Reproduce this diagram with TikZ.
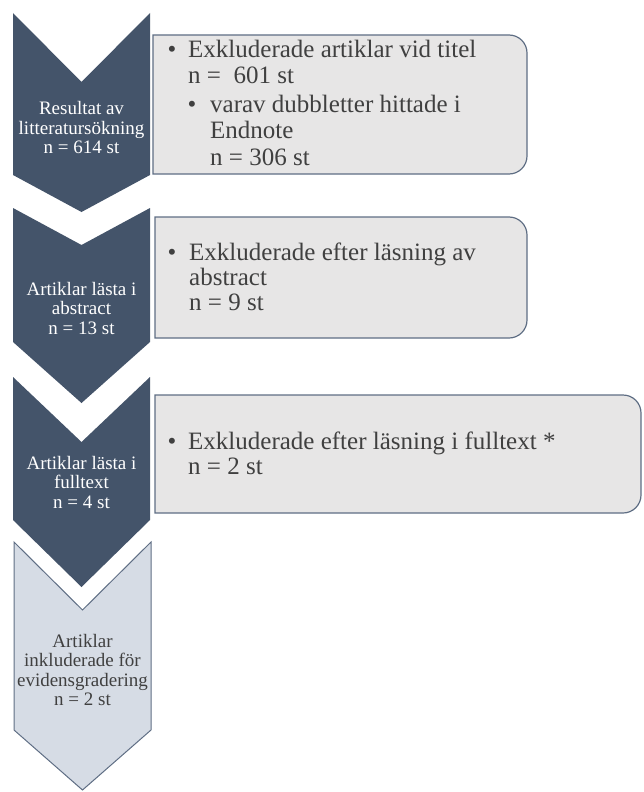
\documentclass[tikz,border=0pt]{standalone}
\usepackage{fontspec}
\setmainfont{Liberation Serif}
\definecolor{chevdark}{HTML}{44546A}
\definecolor{chevlight}{HTML}{D6DCE5}
\definecolor{boxfill}{HTML}{E7E6E6}
\definecolor{boxedge}{HTML}{5F6E84}
\definecolor{txtgrey}{HTML}{404040}

\begin{document}
\begin{tikzpicture}[x=1pt, y=-1pt,
    chevtext/.style={align=center, inner sep=0pt, font=\fontsize{19}{19.5}\selectfont},
    exclbox/.style={fill=boxfill, draw=boxedge, line width=1.2pt},
    itemtext/.style={anchor=base west, inner sep=0pt, text=txtgrey, font=\fontsize{25}{26.5}\selectfont},
    bullettext/.style={anchor=base, inner sep=0pt, text=txtgrey, font=\fontsize{25}{25}\selectfont}]
    \useasboundingbox (0,0) rectangle (643,792);
    \clip (0,0) rectangle (643,792);

    % chevrons
    \fill[chevdark] (13,13) -- (81.5,82) -- (150,13) -- (150,175) -- (81.5,212) -- (13,175) -- cycle;
    \fill[chevdark] (13,208) -- (81.5,245) -- (150,208) -- (150,342) -- (81.5,403) -- (13,342) -- cycle;
    \fill[chevdark] (13,377) -- (81.5,442) -- (150,377) -- (150,520) -- (81.5,587) -- (13,520) -- cycle;
    \draw[fill=chevlight, draw=boxedge, line width=1pt] (14,542) -- (82.5,610) -- (151,542) -- (151,730) -- (82.5,790) -- (14,730) -- cycle;

    \node[chevtext, text=white] (res) at (81.5,128) {Resultat av\\litteratursökning\\n = 614 st};
    \node[chevtext, text=white] (abs) at (81.5,308) {Artiklar lästa i\\abstract\\n = 13 st};
    \node[chevtext, text=white] (full) at (81.5,482) {Artiklar lästa i\\fulltext\\n = 4 st};
    \node[chevtext, text=txtgrey] (incl) at (82.5,670) {Artiklar\\inkluderade för\\evidensgradering\\n = 2 st};

    % boxes
    \draw[exclbox] (153,35) -- (509,35) arc[start angle=-90, end angle=0, radius=18]
        -- (527,156) arc[start angle=0, end angle=90, radius=18] -- (153,174) -- cycle;
    \draw[exclbox] (155,217) -- (509,217) arc[start angle=-90, end angle=0, radius=18]
        -- (527,320) arc[start angle=0, end angle=90, radius=18] -- (155,338) -- cycle;
    \draw[exclbox] (155,395) -- (623,395) arc[start angle=-90, end angle=0, radius=18]
        -- (641,495) arc[start angle=0, end angle=90, radius=18] -- (155,513) -- cycle;

    \node[bullettext] (b1) at (172,57) {•};
    \node[itemtext] (t1a) at (188,57) {Exkluderade artiklar vid titel};
    \node[itemtext] (t1b) at (188,83) {n =\ \ 601 st};
    \node[bullettext] (b2) at (192,112) {•};
    \node[itemtext] (t2a) at (210,112) {varav dubbletter hittade i};
    \node[itemtext] (t2b) at (210,138) {Endnote};
    \node[itemtext] (t2c) at (210,165) {n = 306 st};

    \node[bullettext] (b3) at (172,260) {•};
    \node[itemtext] (t3a) at (189,260) {Exkluderade efter läsning av};
    \node[itemtext] (t3b) at (189,285) {abstract};
    \node[itemtext] (t3c) at (189,310) {n = 9 st};

    \node[bullettext] (b4) at (172,449) {•};
    \node[itemtext] (t4a) at (188,449) {Exkluderade efter läsning i fulltext *};
    \node[itemtext] (t4b) at (188,474) {n = 2 st};
\end{tikzpicture}
\end{document}
